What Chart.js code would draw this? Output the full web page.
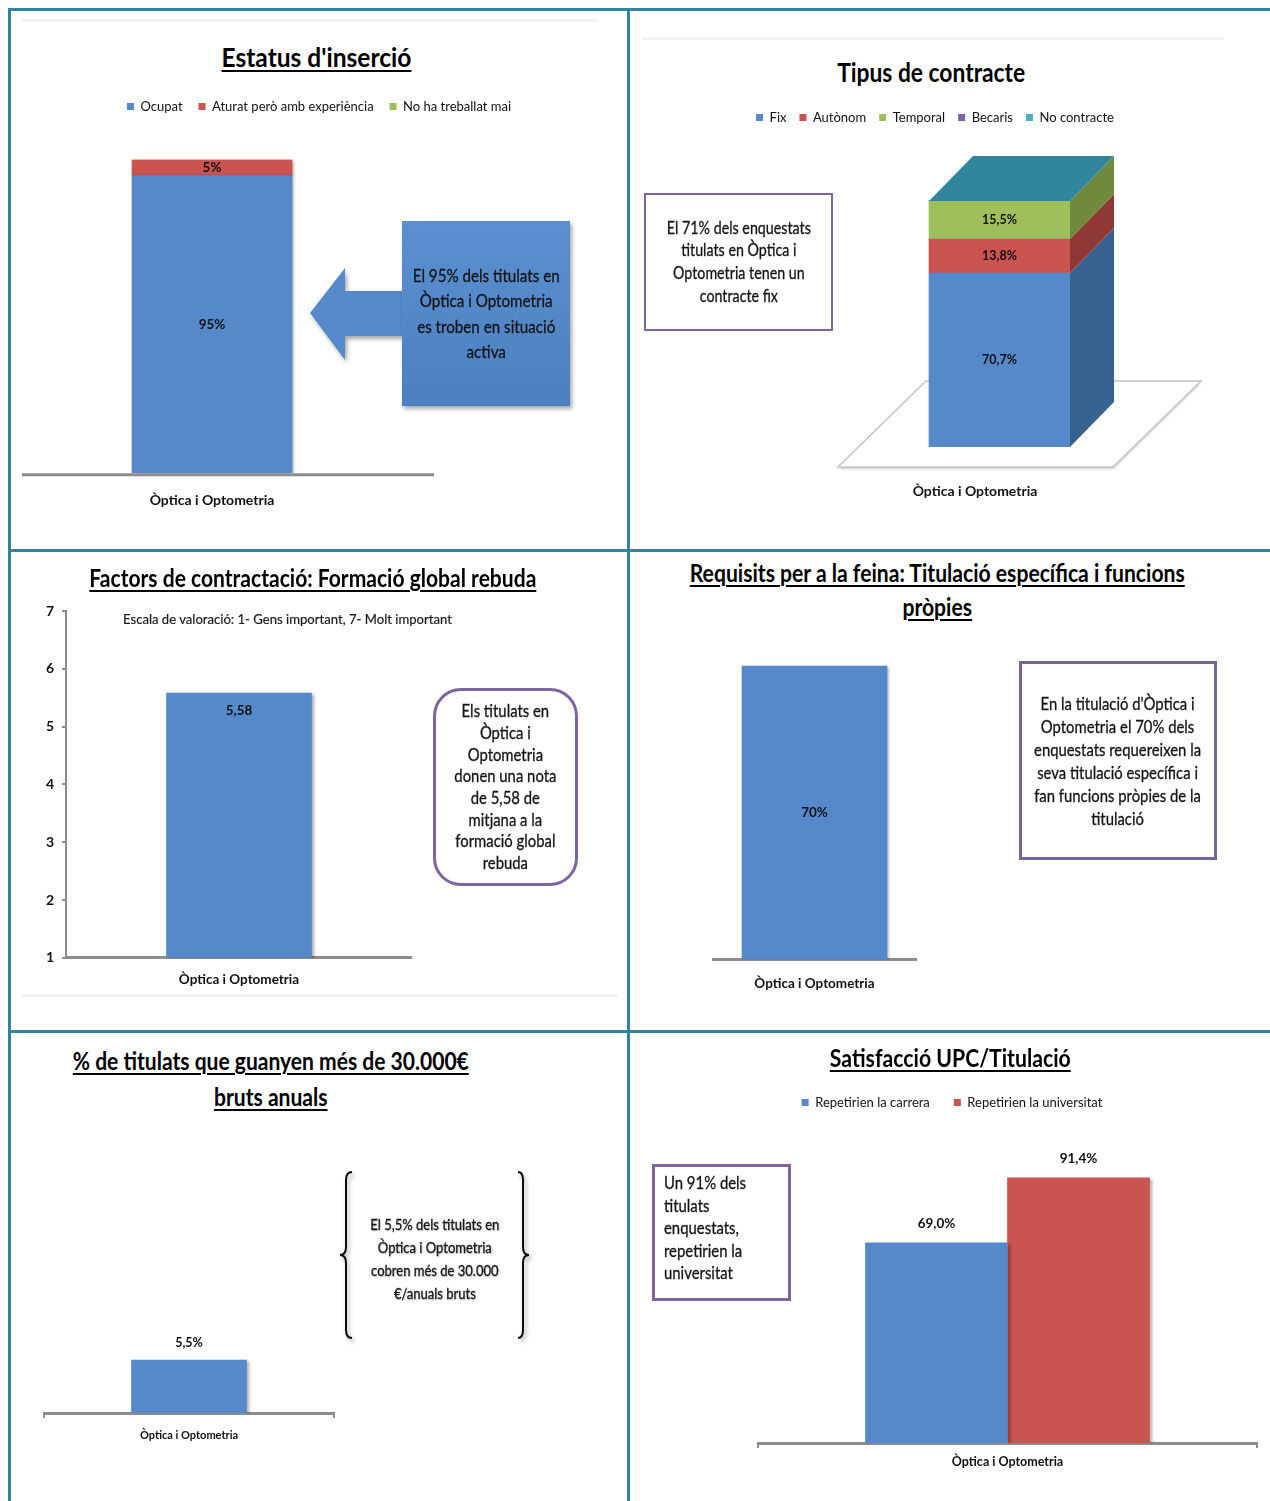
<!DOCTYPE html>
<html lang="ca">
<head>
<meta charset="utf-8">
<title>Òptica i Optometria - inserció laboral</title>
<script src="https://cdn.jsdelivr.net/npm/chart.js@4.4.1/dist/chart.umd.min.js"></script>
<style>
    html, body { margin: 0; padding: 0; background: #fff; }
    #page {
        position: relative; width: 1270px; height: 1501px; overflow: hidden; background: #fff;
        font-family: Lato, "Liberation Sans", sans-serif; color: #111;
    }
    .rule { position: absolute; background: #31849b; }
    .faint { position: absolute; height: 3px; background: #f1f1f1; }
    canvas { position: absolute; }
    .ttl { position: absolute; text-align: center; font-weight: bold; white-space: nowrap; color: #000; }
    .ttl .fit { text-decoration: underline; text-decoration-thickness: 2px; text-underline-offset: 3px; }
    .note {
        position: absolute; box-sizing: border-box; display: flex; align-items: center;
        justify-content: center; text-align: center; white-space: nowrap; color: #141414;
        -webkit-text-stroke: 0.3px #141414;
    }
    .fit { display: inline-block; transform-origin: center; }
</style>
</head>
<body>
<div id="page">
    <!-- panel frame -->
    <div class="rule" style="left:8px;top:8px;width:1262px;height:3px"></div>
    <div class="rule" style="left:8px;top:8px;width:3px;height:1493px"></div>
    <div class="rule" style="left:627px;top:8px;width:3px;height:1493px"></div>
    <div class="rule" style="left:8px;top:549px;width:1262px;height:3px"></div>
    <div class="rule" style="left:8px;top:1030px;width:1262px;height:3px"></div>
    <div class="faint" style="left:22px;top:19px;width:575px"></div>
    <div class="faint" style="left:643px;top:37px;width:581px"></div>
    <div class="faint" style="left:22px;top:994px;width:595px"></div>

    <canvas id="chartInsercio" width="616" height="443" style="left:11px;top:84px"></canvas>
    <canvas id="chartContracte" width="590" height="437" style="left:640px;top:98px"></canvas>
    <canvas id="chartFormacio" width="390" height="411" style="left:22px;top:591px"></canvas>
    <canvas id="chartRequisits" width="205" height="368" style="left:712px;top:640px"></canvas>
    <canvas id="chartSalari" width="298" height="122" style="left:40px;top:1330px"></canvas>
    <canvas id="chartSatisfaccio" width="636" height="404" style="left:634px;top:1072px"></canvas>

    <!-- titles -->
    <div class="ttl" style="left:16px;top:41px;width:600px;font-size:27px;line-height:32px"><span class="fit" data-w="190">Estatus d'inserció</span></div>
    <div class="ttl" style="left:631px;top:56px;width:600px;font-size:26px;line-height:32px"><span class="fit" data-w="188" style="text-decoration:none">Tipus de contracte</span></div>
    <div class="ttl" style="left:13px;top:564px;width:600px;font-size:24px;line-height:28px"><span class="fit" data-w="447">Factors de contractació: Formació global rebuda</span></div>
    <div class="ttl" style="left:637px;top:556px;width:600px;font-size:24px;line-height:34px"><span class="fit" data-w="495">Requisits per a la feina: Titulació específica i funcions<br>pròpies</span></div>
    <div class="ttl" style="left:11px;top:1043px;width:520px;font-size:24px;line-height:36px"><span class="fit" data-w="396">% de titulats que guanyen més de 30.000€<br>bruts anuals</span></div>
    <div class="ttl" style="left:650px;top:1043px;width:600px;font-size:24px;line-height:30px"><span class="fit" data-w="241">Satisfacció UPC/Titulació</span></div>

    <div style="position:absolute;left:123px;top:609px;font-size:14px;line-height:20px;white-space:nowrap;color:#1a1a1a;-webkit-text-stroke:0.2px #1a1a1a"><span class="fit" data-w="329" style="transform-origin:left">Escala de valoració: 1- Gens important, 7- Molt important</span></div>

    <!-- arrow and braces -->
    <svg width="1270" height="1501" style="position:absolute;left:0;top:0">
        <defs>
            <filter id="shadow" x="-20%" y="-20%" width="140%" height="140%">
                <feDropShadow dx="2" dy="3" stdDeviation="2" flood-opacity="0.35"/>
            </filter>
        </defs>
        <polygon points="310,313 345,268 345,291 402,291 402,336 345,336 345,360" fill="#5589ca" filter="url(#shadow)"/>
        <g fill="none" stroke="#111" stroke-width="2" filter="url(#shadow)">
            <path d="M352,1172 Q346,1172 346,1180 L346,1247 Q346,1255 340,1255 Q346,1255 346,1263 L346,1330 Q346,1338 352,1338"/>
            <path d="M518,1172 Q523,1172 523,1180 L523,1247 Q523,1255 529,1255 Q523,1255 523,1263 L523,1330 Q523,1338 518,1338"/>
        </g>
    </svg>

    <!-- notes -->
    <div class="note" style="left:402px;top:221px;width:168px;height:185px;font-size:18px;line-height:25.5px;background:linear-gradient(#5a8fd1,#4c80c0);box-shadow:2px 3px 4px rgba(0,0,0,0.35)"><span class="fit" data-w="147">El 95% dels titulats en<br>Òptica i Optometria<br>es troben en situació<br>activa</span></div>
    <div class="note" style="left:644px;top:193px;width:189px;height:138px;font-size:17px;line-height:22.7px;border:2px solid #8064a2"><span class="fit" data-w="144">El 71% dels enquestats<br>titulats en Òptica i<br>Optometria tenen un<br>contracte fix</span></div>
    <div class="note" style="left:433px;top:688px;width:145px;height:198px;font-size:17px;line-height:21.7px;border:3px solid #7e64a0;border-radius:28px"><span class="fit" data-w="102">Els titulats en<br>Òptica i<br>Optometria<br>donen una nota<br>de 5,58 de<br>mitjana a la<br>formació global<br>rebuda</span></div>
    <div class="note" style="left:1019px;top:661px;width:198px;height:199px;font-size:17px;line-height:23px;border:3px solid #7a6496"><span class="fit" data-w="167">En la titulació d'Òptica i<br>Optometria el 70% dels<br>enquestats requereixen la<br>seva titulació específica i<br>fan funcions pròpies de la<br>titulació</span></div>
    <div class="note" style="left:352px;top:1172px;width:166px;height:173px;font-size:15.5px;line-height:23px;text-shadow:1px 1px 2px rgba(0,0,0,0.3)"><span class="fit" data-w="129">El 5,5% dels titulats en<br>Òptica i Optometria<br>cobren més de 30.000<br>€/anuals bruts</span></div>
    <div class="note" style="left:652px;top:1164px;width:139px;height:137px;font-size:17px;line-height:22.5px;border:3px solid #8064a2;align-items:flex-start;justify-content:flex-start;text-align:left;padding:5px 0 0 9px"><span class="fit" data-w="82" style="transform-origin:left">Un 91% dels<br>titulats<br>enquestats,<br>repetirien la<br>universitat</span></div>
</div>

<script>
// ============================================
// Data
// ============================================

const categories = ['Òptica i Optometria'];

const insercioSeries = ['Ocupat', 'Aturat però amb experiència', 'No ha treballat mai'];
const insercioValues = [95, 5, 0];

const contracteSeries = ['Fix', 'Autònom', 'Temporal', 'Becaris', 'No contracte'];
const contracteValues = [70.7, 13.8, 15.5, 0, 0];

const formacioValues = [5.58];
const valoracioTicks = [1, 2, 3, 4, 5, 6, 7];

const requisitsValues = [70];

const salariValues = [5.5];

const satisfaccioSeries = ['Repetirien la carrera', 'Repetirien la universitat'];
const satisfaccioValues = [69.0, 91.4];

// ============================================
// Styles
// ============================================

const FONT = 'Lato, "Liberation Sans", sans-serif';
const seriesColors = ['#5589ca', '#cb5350', '#9fbf5c', '#8064a2', '#4bacc6'];
const sideColors = ['#37628f', '#8f3836', '#6f8a3d', '#5b4775', '#31859c'];
const AXIS_GREY = '#8c8c8c';

Chart.defaults.font.family = FONT;
Chart.defaults.color = '#111';
Chart.defaults.animation = false;
Chart.defaults.responsive = false;
Chart.defaults.plugins.tooltip.enabled = false;

// squeeze html text to the width it has in the original slides
function fitText() {
    document.querySelectorAll('.fit').forEach(el => {
        el.style.transform = 'none';
        const w = el.getBoundingClientRect().width;
        if (w > 0) el.style.transform = `scaleX(${(el.dataset.w / w).toFixed(3)})`;
    });
}

// soft drop shadow under the flat columns
const barShadow = {
    id: 'barShadow',
    beforeDatasetsDraw(chart) {
        const ctx = chart.ctx;
        ctx.save();
        ctx.shadowColor = 'rgba(0,0,0,0.35)';
        ctx.shadowBlur = 3;
        ctx.shadowOffsetX = 2;
        ctx.shadowOffsetY = 1;
    },
    afterDatasetsDraw(chart) {
        chart.ctx.restore();
    }
};

// value written on / above each bar, Catalan decimal comma
const valueLabels = {
    id: 'valueLabels',
    afterDatasetsDraw(chart, args, opts) {
        const ctx = chart.ctx;
        ctx.save();
        ctx.font = `bold ${opts.size || 13}px ${FONT}`;
        ctx.fillStyle = '#111';
        ctx.textAlign = 'center';
        ctx.textBaseline = 'middle';
        chart.data.datasets.forEach((ds, di) => {
            chart.getDatasetMeta(di).data.forEach((bar, i) => {
                const v = ds.data[i];
                if (!v) return;
                const text = v.toFixed(opts.decimals || 0).replace('.', ',') + (opts.suffix || '');
                const y = opts.position === 'end' ? bar.y - (opts.offset || 18) : (bar.y + bar.base) / 2;
                ctx.fillText(text, bar.x, y);
            });
        });
        ctx.restore();
    }
};

// category axis line that runs past the plot area
const axisLine = {
    id: 'axisLine',
    afterDatasetsDraw(chart, args, opts) {
        const { ctx, chartArea } = chart;
        const y = chart.scales.y.getPixelForValue(chart.scales.y.min) + 1.5;
        ctx.save();
        ctx.strokeStyle = AXIS_GREY;
        ctx.lineWidth = 3;
        ctx.beginPath();
        ctx.moveTo(chartArea.left - (opts.extendLeft || 0), y);
        ctx.lineTo(chartArea.right + (opts.extendRight || 0), y);
        ctx.stroke();
        ctx.restore();
    }
};

// floor, side faces and top face of the 3D column
const bar3d = {
    id: 'bar3d',
    beforeDatasetsDraw(chart) {
        const bar = chart.getDatasetMeta(0).data[0];
        const l = bar.x - bar.width / 2, r = bar.x + bar.width / 2, b = bar.base;
        const ctx = chart.ctx;
        ctx.save();
        ctx.beginPath();
        ctx.moveTo(l - 91, b + 20);
        ctx.lineTo(r + 43, b + 20);
        ctx.lineTo(r + 131, b - 66);
        ctx.lineTo(l - 3, b - 66);
        ctx.closePath();
        ctx.fillStyle = '#fff';
        ctx.shadowColor = 'rgba(0,0,0,0.2)';
        ctx.shadowBlur = 3;
        ctx.shadowOffsetY = 2;
        ctx.fill();
        ctx.shadowColor = 'transparent';
        ctx.strokeStyle = '#c4c4c4';
        ctx.lineWidth = 1.5;
        ctx.stroke();
        ctx.restore();
    },
    afterDatasetsDraw(chart, args, opts) {
        const ctx = chart.ctx;
        const dx = opts.dx, dy = opts.dy;
        let top = Infinity, l = 0, r = 0;
        ctx.save();
        chart.data.datasets.forEach((ds, di) => {
            chart.getDatasetMeta(di).data.forEach((bar, i) => {
                l = bar.x - bar.width / 2;
                r = bar.x + bar.width / 2;
                top = Math.min(top, bar.y);
                if (!ds.data[i]) return;
                ctx.beginPath();
                ctx.moveTo(r, bar.y);
                ctx.lineTo(r + dx, bar.y + dy);
                ctx.lineTo(r + dx, bar.base + dy);
                ctx.lineTo(r, bar.base);
                ctx.closePath();
                ctx.fillStyle = sideColors[di];
                ctx.fill();
            });
        });
        ctx.beginPath();
        ctx.moveTo(l, top);
        ctx.lineTo(r, top);
        ctx.lineTo(r + dx, top + dy);
        ctx.lineTo(l + dx, top + dy);
        ctx.closePath();
        ctx.fillStyle = sideColors[sideColors.length - 1];
        ctx.fill();
        ctx.restore();
    }
};

// invisible value axis used only to reserve room beside the plot
function spacerAxis(position, width, max, min = 0, stacked = false) {
    return {
        position, min, max, stacked,
        ticks: { display: false },
        grid: { display: false, drawTicks: false },
        border: { display: false },
        afterFit: s => { s.width = width; }
    };
}

function categoryAxis(fontSize, padding, extra) {
    return Object.assign({
        grid: { display: false, drawTicks: false },
        border: { display: true, color: AXIS_GREY, width: 3 },
        ticks: { padding, font: { size: fontSize, weight: 'bold' }, color: '#111' }
    }, extra);
}

function legendOpts(spacing) {
    return {
        display: true,
        labels: { boxWidth: 7, boxHeight: 7, padding: spacing, font: { size: 13 }, color: '#111' }
    };
}

const endTicks = { display: true, drawOnChartArea: false, drawTicks: true, tickLength: 5, color: AXIS_GREY, lineWidth: 2, offset: true };

// ============================================
// 1. Estatus d'inserció
// ============================================
new Chart(document.getElementById('chartInsercio'), {
    type: 'bar',
    data: {
        labels: categories,
        datasets: insercioSeries.map((name, i) => ({
            label: name, data: [insercioValues[i]], backgroundColor: seriesColors[i],
            borderWidth: 0, barThickness: 160
        }))
    },
    options: {
        layout: { padding: { left: 11, right: 11, top: 0, bottom: 0 } },
        plugins: {
            legend: legendOpts(16),
            valueLabels: { position: 'center', decimals: 0, suffix: '%', size: 13.5 },
            axisLine: { extendRight: 32 }
        },
        scales: {
            x: categoryAxis(14, 18.5, { stacked: true, border: { display: false } }),
            y: spacerAxis('right', 214, 111.8, 0, true)
        }
    },
    plugins: [barShadow, axisLine, valueLabels]
});

// ============================================
// 2. Tipus de contracte (3D column)
// ============================================
new Chart(document.getElementById('chartContracte'), {
    type: 'bar',
    data: {
        labels: categories,
        datasets: contracteSeries.map((name, i) => ({
            label: name, data: [contracteValues[i]], backgroundColor: seriesColors[i],
            borderWidth: 0, barThickness: 141
        }))
    },
    options: {
        layout: { padding: 0 },
        plugins: {
            legend: legendOpts(13),
            bar3d: { dx: 44, dy: -45 },
            valueLabels: { position: 'center', decimals: 1, suffix: '%', size: 12.5 }
        },
        scales: {
            x: categoryAxis(14, 35.6, { stacked: true, border: { display: false },
                ticks: { padding: 35.6, labelOffset: -24.5, font: { size: 14, weight: 'bold' }, color: '#111' } }),
            y: spacerAxis('left', 129, 127.2, 0, true)
        }
    },
    plugins: [bar3d, valueLabels]
});

// ============================================
// 3. Factors de contractació: formació global
// ============================================
new Chart(document.getElementById('chartFormacio'), {
    type: 'bar',
    data: {
        labels: categories,
        datasets: [{ label: 'Formació global rebuda', data: formacioValues, backgroundColor: seriesColors[0], borderWidth: 0, barThickness: 145 }]
    },
    options: {
        layout: { padding: { top: 20, left: 0, right: 0, bottom: 0 } },
        plugins: {
            legend: { display: false },
            valueLabels: { position: 'end', decimals: 2, offset: -18, size: 13.5 }
        },
        scales: {
            x: categoryAxis(13.5, 14),
            y: {
                min: valoracioTicks[0], max: valoracioTicks[valoracioTicks.length - 1],
                afterBuildTicks: s => { s.ticks = valoracioTicks.map(v => ({ value: v })); },
                ticks: { padding: 8, font: { size: 14, weight: 'bold' }, color: '#111' },
                grid: { drawOnChartArea: false, drawTicks: true, tickLength: 4, color: AXIS_GREY, lineWidth: 2 },
                border: { color: AXIS_GREY, width: 2 },
                afterFit: s => { s.width = 44; }
            }
        }
    },
    plugins: [barShadow, valueLabels]
});

// ============================================
// 4. Requisits per a la feina
// ============================================
new Chart(document.getElementById('chartRequisits'), {
    type: 'bar',
    data: {
        labels: categories,
        datasets: [{ label: 'Titulació específica i funcions pròpies', data: requisitsValues, backgroundColor: seriesColors[0], borderWidth: 0, barThickness: 145 }]
    },
    options: {
        layout: { padding: 0 },
        plugins: {
            legend: { display: false },
            valueLabels: { position: 'center', decimals: 0, suffix: '%', size: 13.5 }
        },
        scales: {
            x: categoryAxis(13.5, 16),
            y: { display: false, min: 0, max: 76.2 }
        }
    },
    plugins: [barShadow, valueLabels]
});

// ============================================
// 5. % que guanyen més de 30.000 €
// ============================================
new Chart(document.getElementById('chartSalari'), {
    type: 'bar',
    data: {
        labels: categories,
        datasets: [{ label: 'Més de 30.000 € bruts anuals', data: salariValues, backgroundColor: seriesColors[0], borderWidth: 0, barThickness: 115 }]
    },
    options: {
        layout: { padding: { left: 4, right: 4, top: 0, bottom: 0 } },
        plugins: {
            legend: { display: false },
            valueLabels: { position: 'end', decimals: 1, suffix: '%', offset: 17, size: 12.5 }
        },
        scales: {
            x: categoryAxis(11, 10.4, { grid: endTicks }),
            y: { display: false, min: 0, max: 8.61 }
        }
    },
    plugins: [barShadow, valueLabels]
});

// ============================================
// 6. Satisfacció UPC / Titulació
// ============================================
new Chart(document.getElementById('chartSatisfaccio'), {
    type: 'bar',
    data: {
        labels: categories,
        datasets: satisfaccioSeries.map((name, i) => ({
            label: name, data: [satisfaccioValues[i]], backgroundColor: seriesColors[i],
            borderWidth: 0, barThickness: 142
        }))
    },
    options: {
        layout: { padding: { left: 13, right: 13, top: 0, bottom: 0 } },
        plugins: {
            legend: legendOpts(24),
            valueLabels: { position: 'end', decimals: 1, suffix: '%', offset: 19, size: 13.5 }
        },
        scales: {
            x: categoryAxis(12.5, 6.5, { grid: endTicks }),
            y: spacerAxis('left', 111, 111.7)
        }
    },
    plugins: [barShadow, valueLabels]
});

fitText();
document.fonts.ready.then(fitText);
</script>
</body>
</html>
